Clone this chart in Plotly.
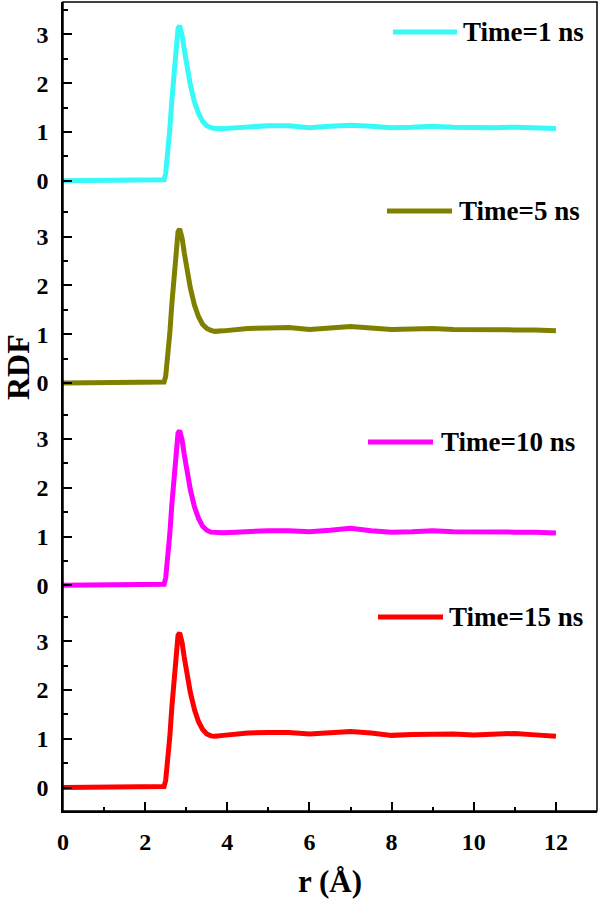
import plotly.graph_objects as go
from plotly.subplots import make_subplots

# ---------------- data ----------------
r = [0, 2.4, 2.46, 2.5, 2.55, 2.6, 2.65, 2.7, 2.75, 2.8, 2.84, 2.9, 2.95, 3.0, 3.05, 3.1,
     3.2, 3.3, 3.4, 3.5, 3.6, 3.7, 3.9, 4.2, 4.5, 5.0, 5.5, 6.0, 6.5, 7.0, 7.5, 8.0,
     8.5, 9.0, 9.5, 10.0, 10.5, 11.0, 11.5, 12.0]

g_1ns = [0, 0, 0.02, 0.15, 0.5, 1.05, 1.65, 2.25, 2.8, 3.12, 3.18, 2.98, 2.7, 2.42, 2.18, 1.97,
         1.62, 1.38, 1.22, 1.13, 1.09, 1.07, 1.07, 1.09, 1.11, 1.13, 1.13, 1.09, 1.12, 1.14, 1.12, 1.09,
         1.1, 1.12, 1.1, 1.09, 1.09, 1.1, 1.09, 1.07]
g_5ns = [0, 0, 0.02, 0.14, 0.48, 1.02, 1.62, 2.22, 2.78, 3.1, 3.16, 2.97, 2.68, 2.4, 2.15, 1.95,
         1.6, 1.36, 1.2, 1.12, 1.08, 1.06, 1.07, 1.1, 1.12, 1.13, 1.14, 1.1, 1.13, 1.16, 1.13, 1.1,
         1.11, 1.12, 1.1, 1.09, 1.1, 1.09, 1.09, 1.07]
g_10ns = [0, 0, 0.02, 0.15, 0.5, 1.05, 1.66, 2.26, 2.8, 3.12, 3.17, 2.98, 2.69, 2.41, 2.16, 1.96,
          1.61, 1.37, 1.21, 1.13, 1.09, 1.08, 1.08, 1.09, 1.11, 1.12, 1.12, 1.1, 1.13, 1.17, 1.12, 1.09,
          1.1, 1.12, 1.1, 1.09, 1.08, 1.09, 1.09, 1.07]
g_15ns = [0, 0, 0.02, 0.15, 0.5, 1.04, 1.65, 2.25, 2.8, 3.12, 3.17, 2.97, 2.68, 2.4, 2.15, 1.95,
          1.6, 1.35, 1.19, 1.1, 1.06, 1.05, 1.07, 1.1, 1.12, 1.13, 1.13, 1.1, 1.12, 1.15, 1.12, 1.07,
          1.09, 1.1, 1.1, 1.08, 1.09, 1.11, 1.08, 1.05]

series_names = ["Time=1 ns", "Time=5 ns", "Time=10 ns", "Time=15 ns"]
series_values = [g_1ns, g_5ns, g_10ns, g_15ns]
series_colors = ["#38F8F8", "#808000", "#FF00FF", "#FF0000"]

x_tick_values = [0, 2, 4, 6, 8, 10, 12]
y_tick_values = [0, 1, 2, 3]
x_title = "r (Å)"
y_title = "RDF"

# ---------------- layout geometry (pixels) ----------------
W, H = 600, 901
L, R, T, B = 63, 3, 2, 90
pw = W - L - R
ph = H - T - B


def px_x(px):
    return (px - L) / pw


def px_y(py):
    return (H - B - py) / ph


FONT = "Liberation Serif"
TICKFONT = dict(family=FONT, size=24, color="black", weight="bold")

fig = make_subplots(rows=4, cols=1, shared_xaxes=True, vertical_spacing=0)

for i, (name, vals, col) in enumerate(zip(series_names, series_values, series_colors)):
    fig.add_trace(
        go.Scatter(x=r, y=vals, mode="lines", name=name,
                   line=dict(color=col, width=5), showlegend=False),
        row=i + 1, col=1,
    )

yaxis_style = dict(
    range=[-0.48, 3.665],
    tickmode="array", tickvals=y_tick_values,
    ticks="inside", ticklen=9, tickwidth=1.5, tickcolor="black",
    minor=dict(dtick=0.5, tick0=0, ticks="inside", ticklen=5, tickwidth=1.5, tickcolor="black"),
    showline=True, linecolor="black", linewidth=1.5,
    showgrid=False, zeroline=False,
    showticklabels=True, tickfont=TICKFONT, ticklabelstandoff=8,
)
for k in ["yaxis", "yaxis2", "yaxis3", "yaxis4"]:
    fig.layout[k].update(yaxis_style)

for k in ["xaxis", "xaxis2", "xaxis3"]:
    fig.layout[k].update(range=[0, 13], showline=False, showticklabels=False, ticks="",
                         showgrid=False, zeroline=False)
fig.layout["xaxis4"].update(
    range=[0, 13], tickmode="array", tickvals=x_tick_values,
    ticks="inside", ticklen=9, tickwidth=1.5, tickcolor="black",
    minor=dict(dtick=1, tick0=0, ticks="inside", ticklen=4, tickwidth=1.5, tickcolor="black"),
    showline=True, linecolor="black", linewidth=1.5,
    showgrid=False, zeroline=False,
    showticklabels=True, tickfont=TICKFONT, ticklabelstandoff=8,
)

# frame around the whole plot area
fig.add_shape(type="rect", xref="paper", yref="paper", x0=0, x1=1, y0=0, y1=1,
              line=dict(color="black", width=1.5), fillcolor="rgba(0,0,0,0)", layer="above")

# per-panel legends (line sample + label)
legend_pos = [  # (line x0, line x1, y, text left) in pixels
    (393, 457, 32, 461),
    (387, 452, 211, 457),
    (368, 433, 442, 439),
    (378, 443, 617, 447),
]
for (x0, x1, yy, tx), name, col in zip(legend_pos, series_names, series_colors):
    fig.add_shape(type="line", xref="paper", yref="paper",
                  x0=px_x(x0), x1=px_x(x1), y0=px_y(yy), y1=px_y(yy),
                  line=dict(color=col, width=5))
    fig.add_annotation(xref="paper", yref="paper", x=px_x(tx), y=px_y(yy),
                       xanchor="left", yanchor="middle", showarrow=False,
                       text=name, font=dict(family=FONT, size=27, color="black", weight="bold"))

# axis titles
fig.add_annotation(xref="paper", yref="paper", x=0.5, y=px_y(881), xanchor="center", yanchor="middle",
                   showarrow=False, text=x_title,
                   font=dict(family=FONT, size=31, color="black", weight="bold"))
fig.add_annotation(xref="paper", yref="paper", x=px_x(18), y=px_y(367), xanchor="center", yanchor="middle",
                   showarrow=False, text=y_title, textangle=-90,
                   font=dict(family=FONT, size=32, color="black", weight="bold"))

fig.update_layout(
    width=W, height=H,
    margin=dict(l=L, r=R, t=T, b=B, autoexpand=False),
    paper_bgcolor="white", plot_bgcolor="white",
    font=dict(family=FONT, size=24, color="black", weight="bold"),
    showlegend=False,
)

fig.write_html("out.html", config={"displayModeBar": False},
               post_script="document.body.style.margin='0';document.body.style.overflow='hidden';")
